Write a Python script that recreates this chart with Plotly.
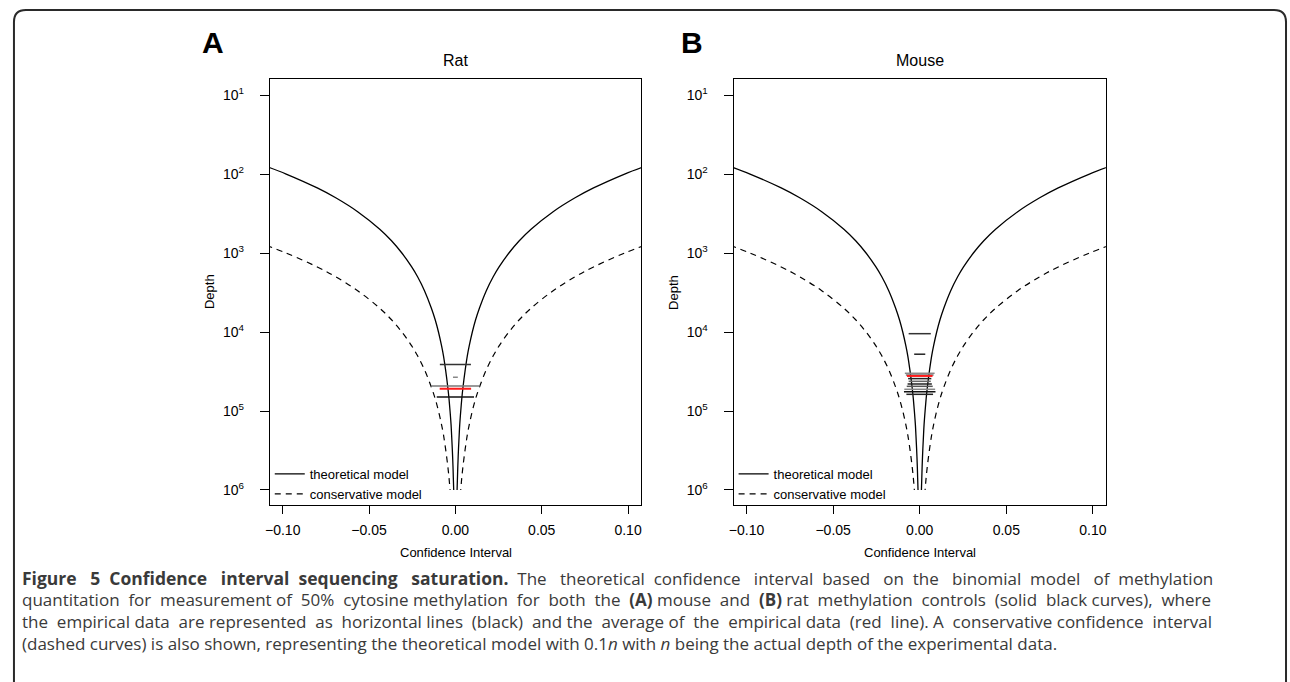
import plotly.graph_objects as go

# ---------------- data ----------------
# theoretical model: depth and half-width of confidence interval
theo_depth = [80, 100, 150, 200, 300, 500, 700, 1000, 1500, 2000, 3000, 5000, 7000,
              10000, 15000, 20000, 30000, 50000, 70000, 100000, 150000, 200000,
              300000, 500000, 700000, 1000000]
theo_half = [0.1096, 0.0980, 0.0800, 0.0693, 0.0566, 0.0438, 0.0370, 0.0310, 0.0253,
             0.0219, 0.0179, 0.0139, 0.0117, 0.0098, 0.0080, 0.0069, 0.0057, 0.0044,
             0.0037, 0.0031, 0.0025, 0.0022, 0.0018, 0.0014, 0.0012, 0.00098]
# conservative model
cons_depth = [800, 1000, 1500, 2000, 3000, 5000, 7000, 10000, 15000, 20000, 30000,
              50000, 70000, 100000, 150000, 200000, 300000, 500000, 700000, 1000000]
cons_half = [0.1096, 0.0980, 0.0800, 0.0693, 0.0566, 0.0438, 0.0370, 0.0310, 0.0253,
             0.0219, 0.0179, 0.0139, 0.0117, 0.0098, 0.0080, 0.0069, 0.0057, 0.0044,
             0.0037, 0.0031]

# empirical data (horizontal lines): depth, half-width, tone
rat_depth = [25700, 37400, 48300, 66500]
rat_half = [0.0090, 0.0014, 0.0141, 0.0108]
rat_tone = ["#333333", "#888888", "#777777", "#111111"]
rat_avg_depth = 52200
rat_avg_half = 0.0091

mouse_depth = [10500, 19100, 33300, 35000, 38900, 42100, 45500, 48700, 53100, 57000, 61500]
mouse_half = [0.0064, 0.0032, 0.0086, 0.0080, 0.0067, 0.0064, 0.0070, 0.0075, 0.0089,
              0.0091, 0.0077]
mouse_tone = ["#333333", "#222222", "#888888", "#777777", "#222222", "#666666",
              "#222222", "#555555", "#888888", "#111111", "#222222"]
mouse_avg_depth = 36000
mouse_avg_half = 0.0074

panel_titles = ["Rat", "Mouse"]
panel_letters = ["A", "B"]
y_tickvals = [10, 100, 1000, 10000, 100000, 1000000]
y_ticktext = ["10<sup>1</sup>", "10<sup>2</sup>", "10<sup>3</sup>", "10<sup>4</sup>",
              "10<sup>5</sup>", "10<sup>6</sup>"]
x_tickvals = [-0.10, -0.05, 0.0, 0.05, 0.10]
x_ticktext = ["\u22120.10", "\u22120.05", "0.00", "0.05", "0.10"]

caption_lines = [
    "<span style='font-size:17.5px'><b>Figure 5 Confidence interval sequencing saturation.</b></span> The theoretical confidence interval based on the binomial model of methylation",
    "quantitation for measurement of 50% cytosine methylation for both the <b>(A)</b> mouse and <b>(B)</b> rat methylation controls (solid black curves), where",
    "the empirical data are represented as horizontal lines (black) and the average of the empirical data (red line). A conservative confidence interval",
    "(dashed curves) is also shown, representing the theoretical model with 0.1<i>n</i> with <i>n</i> being the actual depth of the experimental data.",
]
# extra non-breaking spaces used to justify each caption line
caption_extra = [25, 15, 13, 0]

# ---------------- figure ----------------
W, H = 1290, 682
FONT = "Liberation Sans, Arial, Helvetica, sans-serif"


def px(x):
    return x / W


def py(y):
    return 1 - y / H


def mirrored(depth, half):
    xs = [-h for h in half] + [None] + list(half)
    ys = list(depth) + [None] + list(depth)
    return xs, ys


def justify(line, extra):
    words = line.split(" ")
    gaps = len(words) - 1
    if extra <= 0 or gaps <= 0:
        return line
    out = words[0]
    acc = 0
    for i, w in enumerate(words[1:], start=1):
        target = round(extra * i / gaps)
        add = target - acc
        acc = target
        out += " " + "\u00a0" * add + w
    return out


fig = go.Figure()

panels = [
    dict(xa="x", ya="y", emp_d=rat_depth, emp_h=rat_half, emp_c=rat_tone,
         avg_d=rat_avg_depth, avg_h=rat_avg_half, legend="legend"),
    dict(xa="x2", ya="y2", emp_d=mouse_depth, emp_h=mouse_half, emp_c=mouse_tone,
         avg_d=mouse_avg_depth, avg_h=mouse_avg_half, legend="legend2"),
]

for p in panels:
    tx, ty = mirrored(theo_depth, theo_half)
    fig.add_trace(go.Scatter(x=tx, y=ty, mode="lines", name="theoretical model",
                             line=dict(color="black", width=1.3, shape="spline"),
                             xaxis=p["xa"], yaxis=p["ya"], legend=p["legend"],
                             hoverinfo="skip"))
    cx, cy = mirrored(cons_depth, cons_half)
    fig.add_trace(go.Scatter(x=cx, y=cy, mode="lines", name="conservative model",
                             line=dict(color="black", width=1.2, dash="6px,5px", shape="spline"),
                             xaxis=p["xa"], yaxis=p["ya"], legend=p["legend"],
                             hoverinfo="skip"))
    for d, h, c in zip(p["emp_d"], p["emp_h"], p["emp_c"]):
        fig.add_trace(go.Scatter(x=[-h, h], y=[d, d], mode="lines",
                                 line=dict(color=c, width=1.5), showlegend=False,
                                 xaxis=p["xa"], yaxis=p["ya"], hoverinfo="skip"))
    fig.add_trace(go.Scatter(x=[-p["avg_h"], p["avg_h"]], y=[p["avg_d"], p["avg_d"]],
                             mode="lines", line=dict(color="#ff1a1a", width=2),
                             showlegend=False, xaxis=p["xa"], yaxis=p["ya"],
                             hoverinfo="skip"))

xdom = [[px(266), px(639)], [px(732), px(1106)]]
ydom = [py(505), py(79)]

axis_common_x = dict(range=[-0.1075, 0.1075], tickvals=x_tickvals, ticktext=x_ticktext,
                     showgrid=False, zeroline=False, showline=True, mirror=True,
                     linecolor="black", linewidth=1, ticks="outside", ticklen=8,
                     tickcolor="black", tickwidth=1, ticklabelstandoff=4,
                     tickfont=dict(family=FONT, size=14, color="black"))
axis_common_y = dict(type="log", range=[6.19, 0.797], tickvals=y_tickvals,
                     ticktext=y_ticktext, showgrid=False, zeroline=False,
                     showline=True, mirror=True, linecolor="black", linewidth=1,
                     ticks="outside", ticklen=9, tickcolor="black", tickwidth=1,
                     ticklabelstandoff=13,
                     tickfont=dict(family=FONT, size=14, color="black"))

fig.update_layout(
    width=W, height=H,
    margin=dict(l=0, r=0, t=0, b=0),
    paper_bgcolor="white", plot_bgcolor="white",
    xaxis=dict(domain=xdom[0], anchor="y", **axis_common_x),
    yaxis=dict(domain=ydom, anchor="x", **axis_common_y),
    xaxis2=dict(domain=xdom[1], anchor="y2", **axis_common_x),
    yaxis2=dict(domain=ydom, anchor="x2", **axis_common_y),
    legend=dict(x=px(266), y=py(509), xanchor="left", yanchor="bottom",
                bgcolor="rgba(0,0,0,0)", font=dict(family=FONT, size=13, color="black"),
                tracegroupgap=0, itemwidth=30),
    legend2=dict(x=px(732), y=py(509), xanchor="left", yanchor="bottom",
                 bgcolor="rgba(0,0,0,0)", font=dict(family=FONT, size=13, color="black"),
                 tracegroupgap=0, itemwidth=30),
)

ann = []
for i, (cx_, letter_x, depth_x) in enumerate([(453, 209, 205), (919, 690, 671)]):
    ann.append(dict(text=panel_titles[i], x=px(cx_), y=py(60), xref="paper", yref="paper",
                    xanchor="center", yanchor="middle", showarrow=False,
                    font=dict(family=FONT, size=16, color="black")))
    ann.append(dict(text="<b>" + panel_letters[i] + "</b>", x=px(letter_x), y=py(43),
                    xref="paper", yref="paper", xanchor="center", yanchor="middle",
                    showarrow=False, font=dict(family=FONT, size=30, color="black")))
    ann.append(dict(text="Depth", x=px(depth_x), y=py(292), xref="paper", yref="paper",
                    xanchor="center", yanchor="middle", showarrow=False, textangle=-90,
                    font=dict(family=FONT, size=13, color="black")))
    ann.append(dict(text="Confidence Interval", x=px(cx_), y=py(552), xref="paper",
                    yref="paper", xanchor="center", yanchor="middle", showarrow=False,
                    font=dict(family=FONT, size=13, color="black")))

for k, line in enumerate(caption_lines):
    ann.append(dict(text=justify(line, caption_extra[k]), x=px(15), y=py(578 + 21.7 * k),
                    xref="paper", yref="paper", xanchor="left", yanchor="middle",
                    showarrow=False,
                    font=dict(family="Open Sans, sans-serif", size=17, color="#3a3a3a")))

fig.update_layout(annotations=ann)

# rounded frame around figure + caption
xl, xr, yt = px(9), px(1287), py(10)
rx, ry = 12 / W, 12 / H
path = (f"M {xl},-0.02 L {xl},{yt - ry} Q {xl},{yt} {xl + rx},{yt} "
        f"L {xr - rx},{yt} Q {xr},{yt} {xr},{yt - ry} L {xr},-0.02")
fig.add_shape(type="path", path=path, xref="paper", yref="paper",
              line=dict(color="#2a2a2a", width=2))

fig.write_html("out.html", config={"displayModeBar": False},
               post_script="document.body.style.margin='0';document.body.style.padding='0';")
